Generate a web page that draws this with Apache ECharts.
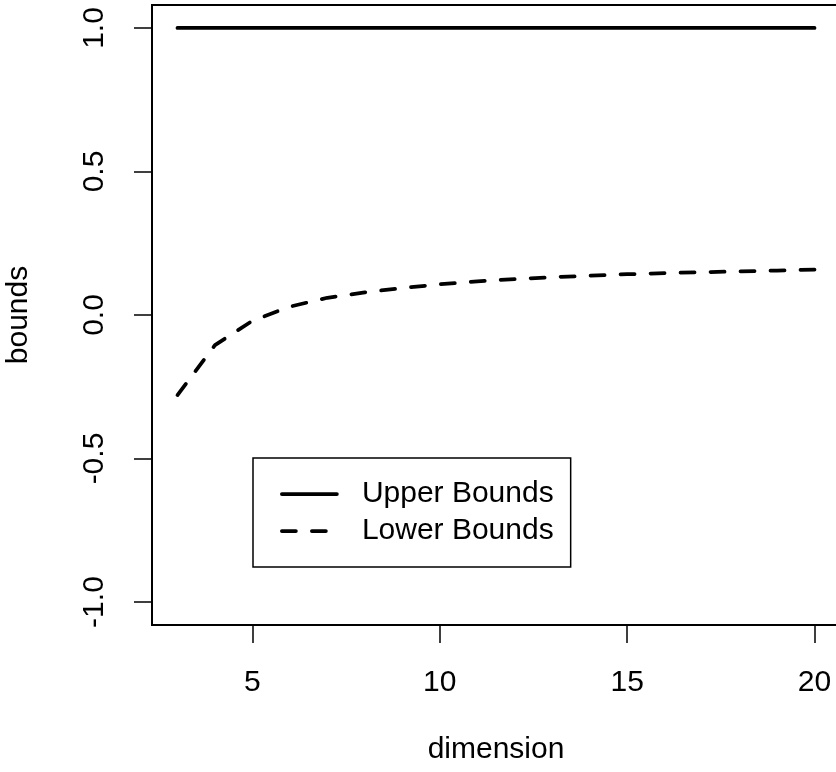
<!DOCTYPE html>
<html>
<head>
<meta charset="utf-8">
<title>Bounds by dimension</title>
<script src="https://cdn.jsdelivr.net/npm/echarts@6/dist/echarts.min.js"></script>
<style>
  html, body { margin: 0; padding: 0; background: #fff; }
  #chart { width: 836px; height: 772px; }
</style>
</head>
<body>
<div id="chart"></div>
<script>
// Dimension values along the x axis
const dimensions = [3, 4, 5, 6, 7, 8, 9, 10, 11, 12, 13, 14, 15, 16, 17, 18, 19, 20];
// Upper and lower bounds for each dimension
const upperBounds = [1, 1, 1, 1, 1, 1, 1, 1, 1, 1, 1, 1, 1, 1, 1, 1, 1, 1];
const lowerBounds = [-0.279, -0.105, -0.02, 0.029, 0.06, 0.079, 0.094, 0.107, 0.117, 0.125,
                     0.132, 0.137, 0.142, 0.146, 0.149, 0.152, 0.155, 0.158];
// Tick positions
const xTicks = [5, 10, 15, 20];
const yTicks = [-1, -0.5, 0, 0.5, 1];

const FONT = 'Liberation Sans, Arial, sans-serif';
const LINE_W = 3.75;
const DASH = [14, 16];
const pairs = (ys) => dimensions.map((d, i) => [d, ys[i]]);

const chart = echarts.init(document.getElementById('chart'), null, { renderer: 'canvas' });
chart.setOption({
  animation: false,
  backgroundColor: '#ffffff',
  textStyle: { fontFamily: FONT, color: '#000' },
  grid: {
    left: 152, top: 5, width: 688, height: 620,
    outerBoundsMode: 'none',
    containLabel: false,
    show: true, borderColor: '#000', borderWidth: 2, backgroundColor: 'transparent'
  },
  xAxis: {
    type: 'value',
    min: 2.32, max: 20.68,
    name: 'dimension',
    nameLocation: 'middle',
    nameGap: 110,
    nameTextStyle: { fontSize: 30, fontFamily: FONT, color: '#000' },
    axisLine: { show: true, onZero: false, lineStyle: { color: '#000', width: 2 } },
    axisTick: { show: true, inside: false, length: 18, customValues: xTicks,
                lineStyle: { color: '#000', width: 1.5 } },
    axisLabel: { show: true, customValues: xTicks, margin: 43, fontSize: 30,
                 fontFamily: FONT, color: '#000' },
    splitLine: { show: false }
  },
  yAxis: {
    type: 'value',
    min: -1.08, max: 1.08,
    name: 'bounds',
    nameLocation: 'middle',
    nameGap: 118,
    nameTextStyle: { fontSize: 30, fontFamily: FONT, color: '#000' },
    axisLine: { show: true, lineStyle: { color: '#000', width: 2 } },
    axisTick: { show: true, inside: false, length: 18, customValues: yTicks,
                lineStyle: { color: '#000', width: 1.5 } },
    axisLabel: { show: true, customValues: yTicks, rotate: 90, margin: 42, fontSize: 30,
                 fontFamily: FONT, color: '#000',
                 formatter: (v) => Number(v).toFixed(1) },
    splitLine: { show: false }
  },
  legend: {
    orient: 'vertical',
    left: 253, top: 458,
    padding: [21, 17, 21, 27],
    itemGap: 7,
    itemWidth: 55,
    itemHeight: 14,
    borderColor: '#000',
    borderWidth: 1.5,
    backgroundColor: '#fff',
    itemStyle: { opacity: 0 },
    textStyle: { fontSize: 30, fontFamily: FONT, color: '#000', lineHeight: 30,
                 padding: [0, 0, 0, 20] },
    data: [
      { name: 'Upper Bounds', lineStyle: { width: LINE_W, type: 'solid', cap: 'round', color: '#000' } },
      { name: 'Lower Bounds', lineStyle: { width: LINE_W, type: DASH, cap: 'round', color: '#000' } }
    ]
  },
  series: [
    {
      name: 'Upper Bounds',
      type: 'line',
      data: pairs(upperBounds),
      showSymbol: false,
      symbol: 'none',
      lineStyle: { color: '#000', width: LINE_W, type: 'solid', cap: 'round' },
      itemStyle: { color: '#000' }
    },
    {
      name: 'Lower Bounds',
      type: 'line',
      data: pairs(lowerBounds),
      showSymbol: false,
      symbol: 'none',
      lineStyle: { color: '#000', width: LINE_W, type: DASH, cap: 'round', join: 'round' },
      itemStyle: { color: '#000' }
    }
  ]
});
</script>
</body>
</html>
